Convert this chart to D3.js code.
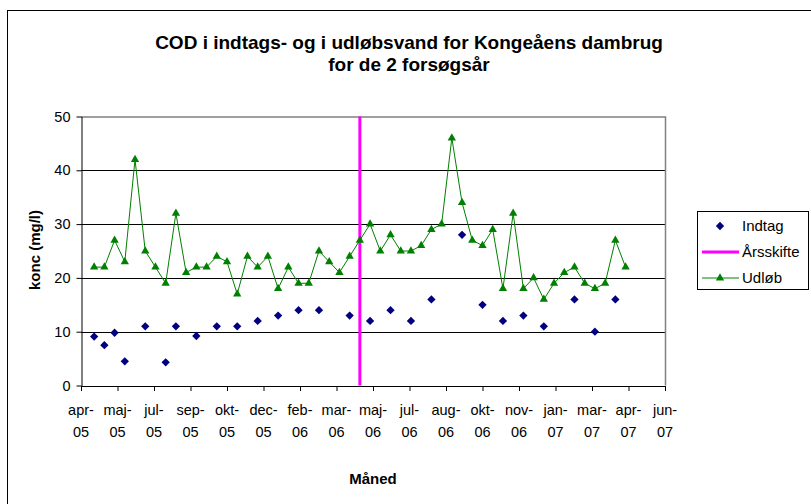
<!DOCTYPE html>
<html>
<head>
  <meta charset="utf-8">
  <title>COD Kongeåens dambrug</title>
  <style>
    body { margin: 0; background: #fff; }
    text { font-family: "Liberation Sans", Arial, sans-serif; fill: #000; }
  </style>
</head>
<body>
  <svg width="811" height="504"></svg>
  <script src="https://d3js.org/d3.v7.min.js"></script>
  <script>

  // 1. data
  var udlobDates = ["2005-04-26","2005-05-10","2005-05-24","2005-06-07","2005-06-21","2005-07-05","2005-07-19",
    "2005-08-02","2005-08-16","2005-08-30","2005-09-13","2005-09-27","2005-10-11","2005-10-25","2005-11-08",
    "2005-11-22","2005-12-06","2005-12-20","2006-01-03","2006-01-17","2006-01-31","2006-02-14","2006-02-28",
    "2006-03-14","2006-03-28","2006-04-11","2006-04-25","2006-05-09","2006-05-23","2006-06-06","2006-06-20",
    "2006-07-04","2006-07-18","2006-08-01","2006-08-15","2006-08-29","2006-09-12","2006-09-26","2006-10-10",
    "2006-10-24","2006-11-07","2006-11-21","2006-12-05","2006-12-19","2007-01-02","2007-01-16","2007-01-30",
    "2007-02-13","2007-02-27","2007-03-13","2007-03-27","2007-04-10","2007-04-24"];
  var udlobValues = [22,22,27,23,42,25,22,19,32,21,22,22,24,23,17,24,22,24,18,22,19,19,25,23,21,24,27,
    30,25,28,25,25,26,29,30,46,34,27,26,29,18,32,18,20,16,19,21,22,19,18,19,27,22];

  var indtagDates = ["2005-04-26","2005-05-10","2005-05-24","2005-06-07","2005-07-05","2005-08-02","2005-08-16",
    "2005-09-13","2005-10-11","2005-11-08","2005-12-06","2006-01-03","2006-01-31","2006-02-28","2006-04-11",
    "2006-05-09","2006-06-06","2006-07-04","2006-08-01","2006-09-12","2006-10-10","2006-11-07","2006-12-05",
    "2007-01-02","2007-02-13","2007-03-13","2007-04-10"];
  var indtagValues = [9.1,7.5,9.8,4.5,11,4.3,11,9.2,11,11,12,13,14,14,13,12,14,12,16,28,15,12,13,11,16,10,16];

  var aarsskifteDate = "2006-04-25";

  var xStart = "2005-04-08", xEnd = "2007-06-17", xStepDays = 50;
  var tickLabels = ["apr-05","maj-05","jul-05","sep-05","okt-05","dec-05","feb-06","mar-06","maj-06",
    "jul-06","aug-06","okt-06","nov-06","jan-07","mar-07","apr-07","jun-07"];
  var yTicks = [0,10,20,30,40,50];

  var parse = d3.utcParse("%Y-%m-%d");

  // 2. layout
  var svg = d3.select("svg");
  var pLeft = 81, pRight = 665, pTop = 116.5, pBottom = 385.5;

  var x = d3.scaleUtc().domain([parse(xStart), parse(xEnd)]).range([pLeft, pRight]);
  var y = d3.scaleLinear().domain([0, 50]).range([pBottom, pTop]);

  var tickDates = tickLabels.map(function(d, i) { return d3.utcDay.offset(parse(xStart), i * xStepDays); });

  // outer frame
  svg.append("rect")
    .attr("x", 7.5).attr("y", 10.5)
    .attr("width", 820).attr("height", 520)
    .attr("fill", "none").attr("stroke", "#000").attr("stroke-width", 1);

  // gridlines
  svg.append("g")
    .selectAll("line")
    .data(yTicks.slice(1, -1))
    .enter()
    .append("line")
    .attr("x1", pLeft).attr("x2", pRight)
    .attr("y1", function(d) { return Math.round(y(d)) + 0.5; })
    .attr("y2", function(d) { return Math.round(y(d)) + 0.5; })
    .attr("stroke", "#000");

  // plot area border (top / right)
  svg.append("path")
    .attr("d", "M" + pLeft + "," + (pTop + 0.5) + "H" + (pRight + 0.5) + "V" + pBottom)
    .attr("fill", "none").attr("stroke", "#808080").attr("stroke-width", 1.5);

  // axes
  var yAxis = svg.append("g")
    .attr("transform", "translate(" + (pLeft + 0.5) + ",0)")
    .call(d3.axisLeft(y).tickValues(yTicks).tickSize(5).tickSizeOuter(0).tickPadding(6));
  yAxis.selectAll("text").attr("font-size", 14.5).style("font-family", "Liberation Sans, Arial, sans-serif");

  var xAxis = svg.append("g")
    .attr("transform", "translate(0," + (pBottom + 0.5) + ")")
    .call(d3.axisBottom(x).tickValues(tickDates).tickSize(5).tickSizeOuter(0).tickFormat(""));

  svg.selectAll(".domain, .tick line").attr("stroke", "#000");

  // two-line x labels
  var xl = svg.append("g")
    .selectAll("text")
    .data(tickDates)
    .enter()
    .append("text")
    .attr("text-anchor", "middle")
    .attr("font-size", 14.5);
  xl.append("tspan")
    .attr("x", function(d) { return x(d); })
    .attr("y", 415)
    .text(function(d, i) { return tickLabels[i].split("-")[0] + "-"; });
  xl.append("tspan")
    .attr("x", function(d) { return x(d); })
    .attr("y", 437)
    .text(function(d, i) { return tickLabels[i].split("-")[1]; });

  // 3. series
  var udlob = udlobDates.map(function(d, i) { return { date: parse(d), value: udlobValues[i] }; });
  var indtag = indtagDates.map(function(d, i) { return { date: parse(d), value: indtagValues[i] }; });

  // Årsskifte line
  svg.append("line")
    .attr("x1", x(parse(aarsskifteDate))).attr("x2", x(parse(aarsskifteDate)))
    .attr("y1", pTop).attr("y2", pBottom)
    .attr("stroke", "#ff00ff").attr("stroke-width", 3);

  svg.append("path")
    .datum(udlob)
    .attr("fill", "none")
    .attr("stroke", "#008000")
    .attr("stroke-width", 1)
    .attr("d", d3.line().x(function(d) { return x(d.date); }).y(function(d) { return y(d.value); }));

  var tri = d3.symbol().type(d3.symbolTriangle).size(30);
  svg.append("g")
    .selectAll("path")
    .data(udlob)
    .enter()
    .append("path")
    .attr("transform", function(d) { return "translate(" + x(d.date) + "," + y(d.value) + ")"; })
    .attr("d", tri)
    .attr("fill", "#008000");

  var diamond = d3.symbol().type(d3.symbolDiamond2).size(44);
  svg.append("g")
    .selectAll("path")
    .data(indtag)
    .enter()
    .append("path")
    .attr("transform", function(d) { return "translate(" + x(d.date) + "," + y(d.value) + ")"; })
    .attr("d", diamond)
    .attr("fill", "#000080");

  // 4. titles
  svg.append("text")
    .attr("x", 409).attr("y", 49)
    .attr("text-anchor", "middle")
    .attr("font-size", 19).attr("font-weight", "bold")
    .text("COD i indtags- og i udløbsvand for Kongeåens dambrug");
  svg.append("text")
    .attr("x", 409).attr("y", 71)
    .attr("text-anchor", "middle")
    .attr("font-size", 19).attr("font-weight", "bold")
    .text("for de 2 forsøgsår");

  svg.append("text")
    .attr("transform", "translate(40,250) rotate(-90)")
    .attr("text-anchor", "middle")
    .attr("font-size", 15).attr("font-weight", "bold")
    .text("konc (mg/l)");

  svg.append("text")
    .attr("x", 373).attr("y", 484)
    .attr("text-anchor", "middle")
    .attr("font-size", 15).attr("font-weight", "bold")
    .text("Måned");

  // 5. legend
  var lg = svg.append("g");
  lg.append("rect")
    .attr("x", 697.5).attr("y", 211.5)
    .attr("width", 111).attr("height", 78)
    .attr("fill", "#fff").attr("stroke", "#000");

  lg.append("path")
    .attr("transform", "translate(720,226)")
    .attr("d", diamond)
    .attr("fill", "#000080");
  lg.append("line")
    .attr("x1", 702).attr("x2", 739).attr("y1", 252).attr("y2", 252)
    .attr("stroke", "#ff00ff").attr("stroke-width", 3);
  lg.append("line")
    .attr("x1", 702).attr("x2", 739).attr("y1", 278).attr("y2", 278)
    .attr("stroke", "#008000");
  lg.append("path")
    .attr("transform", "translate(720,278)")
    .attr("d", tri)
    .attr("fill", "#008000");

  lg.selectAll("text.lab")
    .data(["Indtag", "Årsskifte", "Udløb"])
    .enter()
    .append("text")
    .attr("class", "lab")
    .attr("x", 742)
    .attr("y", function(d, i) { return 231 + i * 26; })
    .attr("font-size", 15)
    .text(function(d) { return d; });

  </script>
</body>
</html>
